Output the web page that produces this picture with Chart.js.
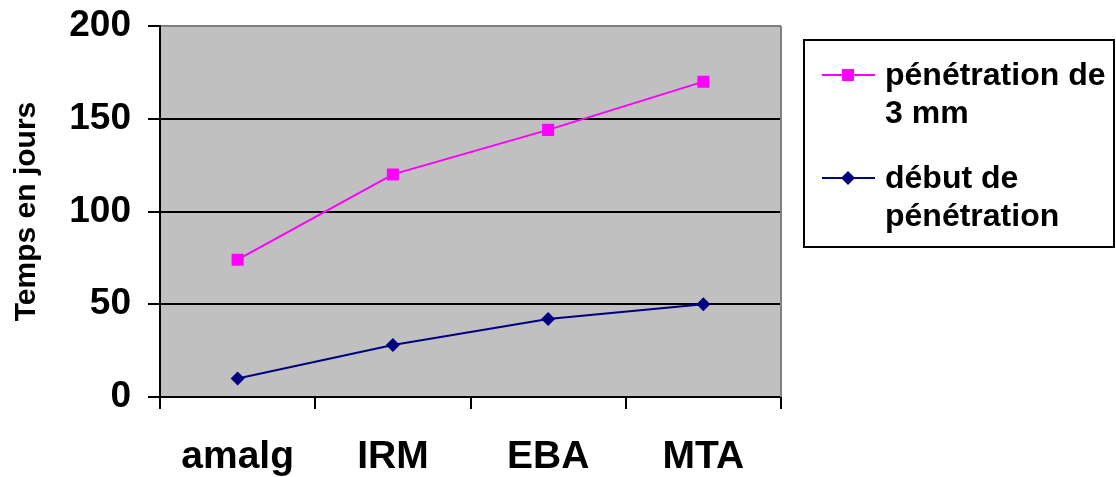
<!DOCTYPE html>
<html>
<head>
<meta charset="utf-8">
<script src="https://cdn.jsdelivr.net/npm/chart.js@4"></script>
<style>
  html, body { margin: 0; padding: 0; background: #ffffff; }
  #wrap { width: 1116px; height: 477px; position: relative; }
</style>
</head>
<body>
<div id="wrap"><canvas id="c" width="1116" height="477"></canvas></div>
<script>
// Categories and series values (days)
const categories = ['amalg', 'IRM', 'EBA', 'MTA'];
const penetration3mm = [74, 120, 144, 170];
const debutPenetration = [10, 28, 42, 50];
const yTicks = [0, 50, 100, 150, 200];
const seriesLabels = [['pénétration de', '3 mm'], ['début de', 'pénétration']];
const yAxisTitle = 'Temps en jours';

const FONT = '"Liberation Sans", Arial, Helvetica, sans-serif';

// Grey plot area with a thin grey frame on the right
const plotFrame = {
  id: 'plotFrame',
  beforeDraw(chart) {
    const { ctx, chartArea: a } = chart;
    ctx.save();
    ctx.fillStyle = '#C0C0C0';
    ctx.fillRect(a.left, a.top, a.right - a.left, a.bottom - a.top);
    ctx.restore();
  },
  beforeDatasetsDraw(chart) {
    const { ctx, chartArea: a } = chart;
    ctx.save();
    ctx.strokeStyle = '#808080';
    ctx.lineWidth = 2;
    ctx.beginPath();
    ctx.moveTo(a.right, a.top);
    ctx.lineTo(a.right, a.bottom);
    ctx.stroke();
    ctx.restore();
  }
};

// Boxed legend on the right, with two-line labels
const boxLegend = {
  id: 'boxLegend',
  afterDraw(chart) {
    const ctx = chart.ctx;
    const box = { x: 804, y: 40, w: 310, h: 207 };
    ctx.save();
    ctx.strokeStyle = '#000';
    ctx.lineWidth = 2;
    ctx.strokeRect(box.x, box.y, box.w, box.h);
    ctx.font = 'bold 32px ' + FONT;
    ctx.fillStyle = '#000';
    ctx.textAlign = 'left';
    ctx.textBaseline = 'alphabetic';
    chart.data.datasets.forEach((ds, i) => {
      const lineY = 75 + i * 103;
      ctx.strokeStyle = ds.borderColor;
      ctx.lineWidth = ds.borderWidth;
      ctx.beginPath();
      ctx.moveTo(822, lineY);
      ctx.lineTo(875, lineY);
      ctx.stroke();
      ctx.fillStyle = ds.pointBackgroundColor;
      ctx.strokeStyle = ds.pointBorderColor;
      Chart.helpers.drawPoint(ctx, {
        pointStyle: ds.pointStyle,
        radius: ds.pointRadius,
        rotation: 0,
        borderWidth: 0
      }, 848, lineY);
      ctx.fillStyle = '#000';
      seriesLabels[i].forEach((line, k) => {
        ctx.fillText(line, 885, lineY + 10 + k * 38);
      });
    });
    ctx.restore();
  }
};

new Chart(document.getElementById('c'), {
  type: 'line',
  data: {
    labels: categories,
    datasets: [
      {
        label: seriesLabels[0].join(' '),
        data: penetration3mm,
        borderColor: '#FF00FF',
        backgroundColor: '#FF00FF',
        pointBackgroundColor: '#FF00FF',
        pointBorderColor: '#FF00FF',
        pointStyle: 'rect',
        pointRadius: 8.5,
        pointBorderWidth: 0,
        borderWidth: 2,
        tension: 0
      },
      {
        label: seriesLabels[1].join(' '),
        data: debutPenetration,
        borderColor: '#000080',
        backgroundColor: '#000080',
        pointBackgroundColor: '#000080',
        pointBorderColor: '#000080',
        pointStyle: 'rectRot',
        pointRadius: 7,
        pointBorderWidth: 0,
        borderWidth: 2,
        tension: 0
      }
    ]
  },
  options: {
    responsive: false,
    devicePixelRatio: 1,
    animation: false,
    layout: { padding: { left: 9, top: 26, right: 335, bottom: 0 } },
    plugins: {
      legend: { display: false },
      tooltip: { enabled: false }
    },
    scales: {
      x: {
        type: 'category',
        offset: true,
        grid: {
          offset: true,
          drawOnChartArea: false,
          color: '#000',
          lineWidth: 2,
          tickLength: 12
        },
        border: { color: '#000', width: 2 },
        ticks: {
          color: '#000',
          font: { family: FONT, size: 39, weight: 'bold' },
          padding: 25,
          maxRotation: 0,
          autoSkip: false
        },
        afterFit(s) { s.height = 80; s.paddingLeft = 0; s.paddingRight = 0; }
      },
      y: {
        min: 0,
        max: 200,
        afterBuildTicks(s) { s.ticks = yTicks.map(v => ({ value: v })); },
        grid: {
          color: c => (c.tick && c.tick.value === 200 ? '#808080' : '#000'),
          tickColor: '#000',
          lineWidth: 2,
          tickLength: 12
        },
        border: { color: '#000', width: 2 },
        ticks: {
          color: '#000',
          font: { family: FONT, size: 37, weight: 'bold' },
          padding: 17
        },
        title: {
          display: true,
          text: yAxisTitle,
          color: '#000',
          font: { family: FONT, size: 30, weight: 'bold' },
          padding: { top: 0, bottom: 0 }
        },
        afterFit(s) { s.width = 151; s.paddingTop = 0; s.paddingBottom = 0; }
      }
    }
  },
  plugins: [plotFrame, boxLegend]
});
</script>
</body>
</html>
